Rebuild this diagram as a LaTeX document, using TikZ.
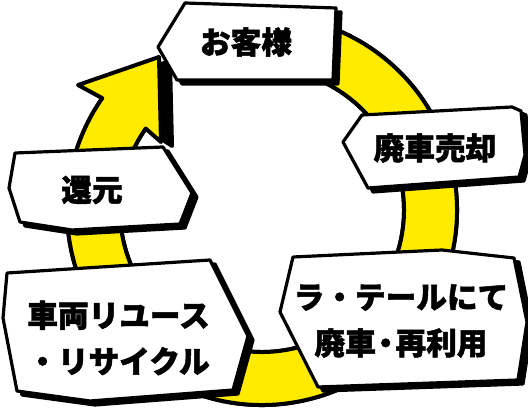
\documentclass[tikz,border=0pt]{standalone}
\usepackage{fontspec}
\newfontfamily\jpfont{Noto Sans CJK JP}[BoldFeatures={FakeBold=1.6}]
\usetikzlibrary{calc}
\definecolor{ringyellow}{RGB}{255,235,0}
\newcommand{\stagebox}[1]{\draw[boxshadow] #1; \draw[boxbody] #1;}
\newcommand{\tightdot}{\kern-0.18em・\kern-0.18em}

\begin{document}
\begin{tikzpicture}[
  x=0.75pt, y=-0.75pt,
  every node/.style={font=\jpfont\bfseries\fontsize{23}{34.5}\selectfont, inner sep=0pt},
  ringshadow/.style={fill=black, draw=black, line width=3pt, line join=round, shift={(11,4)}},
  ringbody/.style={fill=ringyellow, draw=black, line width=3pt, line join=round},
  boxshadow/.style={fill=black, draw=black, line width=2.4pt, line join=round, shift={(5,4)}},
  boxbody/.style={fill=white, draw=black, line width=2.4pt, line join=round}
]
  \useasboundingbox (0,0) rectangle (528,417);

  % --- Ring with arrow head (clockwise) ---
  \coordinate (c) at (262,210);
  \def\ringpath{($(c)+(-100:195)$) arc[start angle=-100, end angle=215, radius=195]
    -- (78,85) -- (159,57) -- (161,142)
    -- ($(c)+(215:142)$) arc[start angle=215, end angle=-100, radius=142] -- cycle}
  \draw[ringshadow] \ringpath;
  \draw[ringbody] \ringpath;

  % --- Stage boxes ---
  \stagebox{(185,3) -- (336,8) -- (333,80) -- (177,80) -- (158,47) -- cycle}
  \stagebox{(362,115) -- (512,107) -- (521,111) -- (525,155) -- (519,177) -- (368,188) -- (343,142) -- cycle}
  \stagebox{(15,153) -- (163,147) -- (192,193) -- (180,224) -- (72,230) -- (20,222) -- (9,188) -- cycle}
  \stagebox{(7,273) -- (210,260) -- (248,336) -- (233,390) -- (90,401) -- (17,391) -- (3,318) -- cycle}
  \stagebox{(293,257) -- (442,250) -- (514,258) -- (527,322) -- (518,380) -- (318,387) -- (280,312) -- cycle}

  % --- Labels ---
  \node (guest)   at (246,42)  {お客様};
  \node (sale)    at (435,148) {廃車売却};
  \node (refund)  at (92,190)  {還元};
  \node[anchor=west, align=left] (reuse) at (27,338) {車両リユース\\・リサイクル};
  \node[align=center] (raterre) at (401,321) {ラ・テールにて\\廃車\tightdot 再利用};

\end{tikzpicture}
\end{document}
